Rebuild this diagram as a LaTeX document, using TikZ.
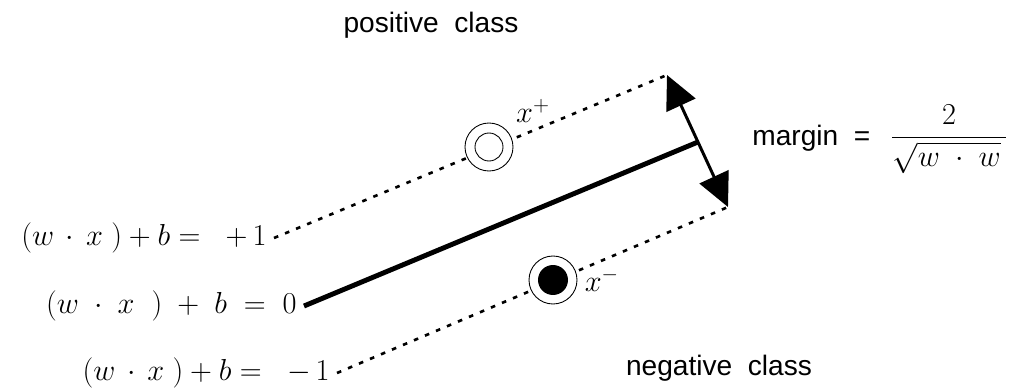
\documentclass[tikz,border=0pt]{standalone}
\usepackage{amsmath}
\usepackage{fontspec}
\setsansfont{Liberation Sans}
\usetikzlibrary{arrows.meta,positioning,calc}
\tikzset{>={Triangle[length=19pt,width=18pt]}}

\begin{document}
\begin{tikzpicture}[x=0.02cm,y=-0.02cm,
   eq/.style={font=\fontsize{18}{21}\selectfont,inner sep=4pt},
   txt/.style={font=\sffamily\fontsize{16}{19}\selectfont,inner sep=0},
   bound/.style={line width=1.5pt,dash pattern=on 2.6pt off 4.2pt},
   hyper/.style={line width=2.8pt},
   ring/.style={draw,circle,fill=white,line width=0.5pt,minimum size=0.96cm,inner sep=0},
   both/.style={<->,line width=1.7pt}]
  \useasboundingbox (0,0) rectangle (1022,392);
  \node[txt,anchor=base] (pos) at (431,32) {positive\ \ class};
  \node[txt,anchor=base] (neg) at (719,375) {negative\ \ class};
  \node[eq,anchor=east] (lp) at (274,238) {$(w\,\cdot\,x\;)+b=\;\;+\,1$};
  \node[eq,anchor=east] (l0) at (304,306) {$(w\;\cdot\;x\;\;)\;+\;b\;=\;0$};
  \node[eq,anchor=east] (lm) at (337,373) {$(w\,\cdot\,x\;)+b=\;\;-\,1$};
  \coordinate (tp) at (667,75);
  \coordinate (tm) at (728,207);
  \coordinate (c0) at (698,142);
  \draw[bound] (lp.east) -- (tp);
  \draw[bound] (lm.east) -- (tm);
  \draw[hyper] (l0.east) -- (c0);
  \draw[both] (tp) -- (tm);
  \node[ring] (xp) at (489,147) {};
  \draw[line width=0.5pt] (xp.center) circle (0.28cm);
  \node[ring] (xm) at (553,280) {};
  \fill (xm.center) circle (0.3cm);
  \node[eq,above right=0cm and 0.05cm of xp] (lxp) {$x^+$};
  \node[eq,right=0cm of xm] (lxm) {$x^-$};
  \node[txt,anchor=base west] (mg) at (752,145) {margin\ \ =};
  \node[eq,base right=7pt of mg] (fr) {$\dfrac{2}{\sqrt{w\;\cdot\;w}\,}$};
\end{tikzpicture}
\end{document}
